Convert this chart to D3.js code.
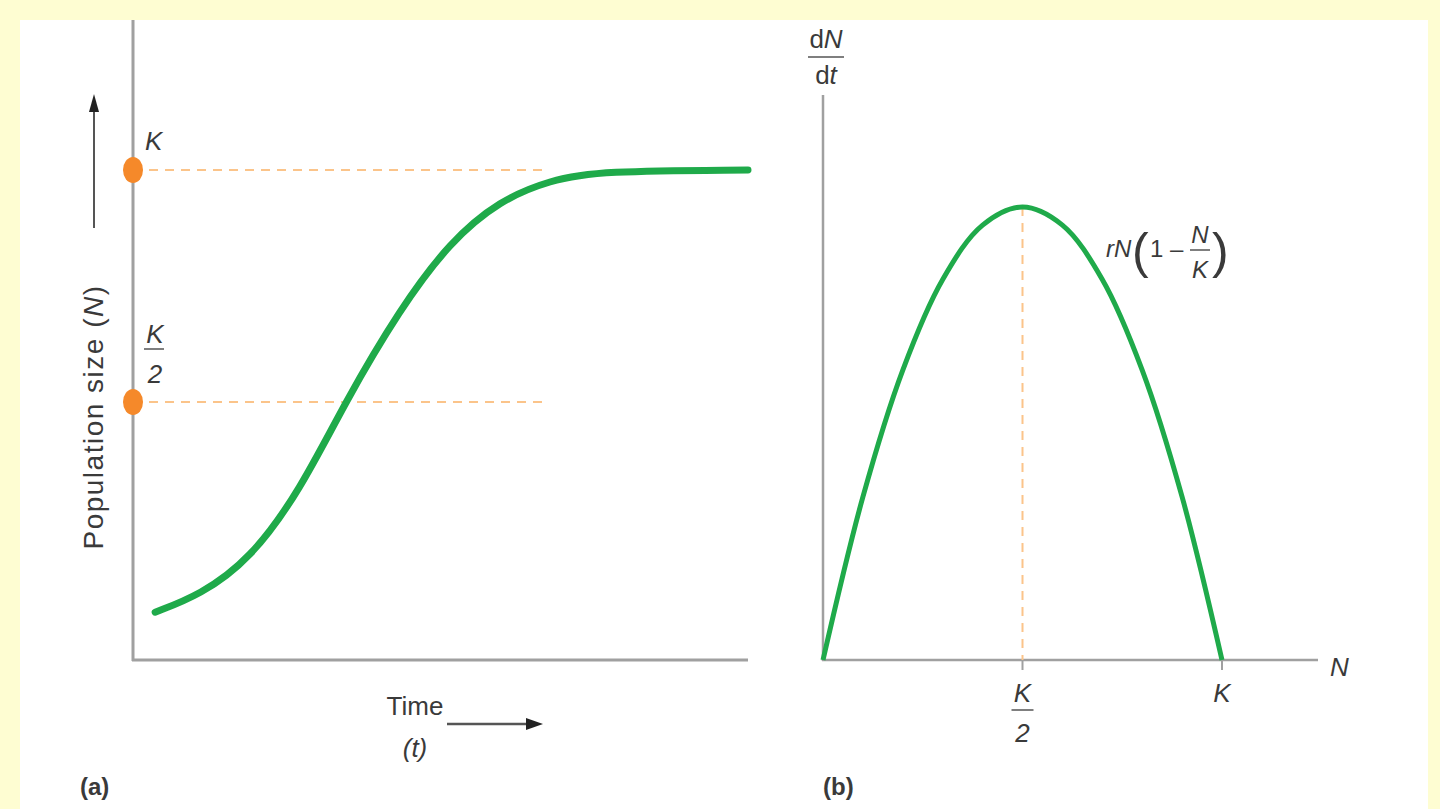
<!DOCTYPE html><html><head><meta charset="utf-8">
<script src="https://cdn.jsdelivr.net/npm/d3@7"></script>
<style>body{margin:0;background:#fefdd2}svg{display:block}text{font-family:"Liberation Sans Narrow","Liberation Sans",Arial,sans-serif;fill:#3a3a3a}</style>
</head><body><svg width="1440" height="809"></svg><script>
// Logistic growth (N as fraction of K)
const timeVals=[0.36,1.09,1.9,2.72,3.45,4.34,5.15,5.97,6.78,7.59,10];
const popVals=[0.047,0.084,0.16,0.31,0.5,0.70,0.845,0.935,0.978,0.998,1];
// dN/dt vs N (fraction of peak)
const nVals=[0,0.1,0.2,0.3,0.4,0.5,0.6,0.7,0.8,0.9,1];
const rateVals=[0,0.36,0.64,0.84,0.96,1,0.96,0.84,0.64,0.36,0];
const refLevels=[1,0.5];

const svg=d3.select("svg");
svg.append("rect").attr("x",20).attr("y",20).attr("width",1408).attr("height",800).attr("fill","#fff");
const gray="#a0a0a0",green="#1faa4a";

// Panel a
const xa=d3.scaleLinear().domain([0,10]).range([133,748]);
const ya=d3.scaleLinear().domain([0,1]).range([634,170]);
svg.append("line").attr("x1",133).attr("x2",133).attr("y1",20).attr("y2",661).attr("stroke",gray).attr("stroke-width",3);
svg.append("line").attr("x1",132).attr("x2",748).attr("y1",660).attr("y2",660).attr("stroke",gray).attr("stroke-width",3);
refLevels.forEach(v=>{
  svg.append("line").attr("x1",133).attr("x2",548).attr("y1",ya(v)).attr("y2",ya(v)).attr("stroke","#fbc48a").attr("stroke-width",2).attr("stroke-dasharray","9,7");
});
svg.append("path").datum(timeVals.map((t,i)=>[t,popVals[i]])).attr("fill","none").attr("stroke",green).attr("stroke-width",7).attr("stroke-linecap","round")
  .attr("d",d3.line().x(d=>xa(d[0])).y(d=>ya(d[1])).curve(d3.curveBasis));
refLevels.forEach(v=>{
  svg.append("ellipse").attr("cx",133).attr("cy",ya(v)).attr("rx",10).attr("ry",13).attr("fill","#f5892a");
});
svg.append("text").attr("x",145).attr("y",150).attr("font-size",26).attr("font-style","italic").text("K");
svg.append("text").attr("x",155).attr("y",343).attr("text-anchor","middle").attr("font-size",26).attr("font-style","italic").text("K");
svg.append("line").attr("x1",144).attr("x2",164).attr("y1",349).attr("y2",349).attr("stroke","#555").attr("stroke-width",1.5);
svg.append("text").attr("x",155).attr("y",383).attr("text-anchor","middle").attr("font-size",26).attr("font-style","italic").text("2");
svg.append("text").attr("transform","translate(103,417) rotate(-90)").attr("text-anchor","middle").attr("font-size",28).attr("letter-spacing",1.5)
  .html('Population size (<tspan font-style="italic">N</tspan>)');
svg.append("line").attr("x1",94).attr("x2",94).attr("y1",228).attr("y2",108).attr("stroke","#555").attr("stroke-width",2);
svg.append("path").attr("d","M89,112 L94,94 L99,112 Z").attr("fill","#222");
svg.append("text").attr("x",415).attr("y",715).attr("text-anchor","middle").attr("font-size",26).text("Time");
svg.append("text").attr("x",415).attr("y",757).attr("text-anchor","middle").attr("font-size",26).attr("font-style","italic").text("(t)");
svg.append("line").attr("x1",447).attr("x2",530).attr("y1",724).attr("y2",724).attr("stroke","#555").attr("stroke-width",2.5);
svg.append("path").attr("d","M526,718 L543,724 L526,730 Z").attr("fill","#222");
svg.append("text").attr("x",80).attr("y",795).attr("font-size",24).attr("font-weight","bold").text("(a)");

// Panel b
const xb=d3.scaleLinear().domain([0,1]).range([823,1222]);
const yb=d3.scaleLinear().domain([0,1]).range([660,207]);
svg.append("line").attr("x1",823).attr("x2",823).attr("y1",95).attr("y2",661).attr("stroke",gray).attr("stroke-width",2.5);
svg.append("line").attr("x1",822).attr("x2",1318).attr("y1",660).attr("y2",660).attr("stroke",gray).attr("stroke-width",2.5);
svg.append("line").attr("x1",xb(0.5)).attr("x2",xb(0.5)).attr("y1",yb(1)).attr("y2",660).attr("stroke","#fbc48a").attr("stroke-width",2).attr("stroke-dasharray","9,7");
svg.append("line").attr("x1",xb(0.5)).attr("x2",xb(0.5)).attr("y1",660).attr("y2",670).attr("stroke",gray).attr("stroke-width",2);
svg.append("line").attr("x1",xb(1)).attr("x2",xb(1)).attr("y1",660).attr("y2",670).attr("stroke",gray).attr("stroke-width",2);
svg.append("path").datum(nVals.map((n,i)=>[n,rateVals[i]])).attr("fill","none").attr("stroke",green).attr("stroke-width",5)
  .attr("d",d3.line().x(d=>xb(d[0])).y(d=>yb(d[1])).curve(d3.curveCatmullRom));
svg.append("text").attr("x",826).attr("y",48).attr("text-anchor","middle").attr("font-size",26).html('d<tspan font-style="italic">N</tspan>');
svg.append("line").attr("x1",808).attr("x2",844).attr("y1",57).attr("y2",57).attr("stroke","#555").attr("stroke-width",1.5);
svg.append("text").attr("x",826).attr("y",84).attr("text-anchor","middle").attr("font-size",26).html('d<tspan font-style="italic">t</tspan>');
svg.append("text").attr("x",1330).attr("y",676).attr("font-size",26).attr("font-style","italic").text("N");
svg.append("text").attr("x",xb(0.5)).attr("y",702).attr("text-anchor","middle").attr("font-size",26).attr("font-style","italic").text("K");
svg.append("line").attr("x1",xb(0.5)-11).attr("x2",xb(0.5)+11).attr("y1",710).attr("y2",710).attr("stroke","#555").attr("stroke-width",1.5);
svg.append("text").attr("x",xb(0.5)).attr("y",742).attr("text-anchor","middle").attr("font-size",26).attr("font-style","italic").text("2");
svg.append("text").attr("x",xb(1)).attr("y",702).attr("text-anchor","middle").attr("font-size",26).attr("font-style","italic").text("K");
const f=svg.append("g").attr("font-size",24);
f.append("text").attr("x",1106).attr("y",257).attr("font-style","italic").text("rN");
f.append("text").attr("x",1132).attr("y",268).attr("font-size",50).attr("font-weight","100").attr("fill","#777").text("(");
f.append("text").attr("x",1150).attr("y",257).text("1 –");
f.append("text").attr("x",1200).attr("y",243).attr("text-anchor","middle").attr("font-style","italic").text("N");
f.append("line").attr("x1",1190).attr("x2",1210).attr("y1",250).attr("y2",250).attr("stroke","#555").attr("stroke-width",1.5);
f.append("text").attr("x",1200).attr("y",278).attr("text-anchor","middle").attr("font-style","italic").text("K");
f.append("text").attr("x",1212).attr("y",268).attr("font-size",50).attr("font-weight","100").attr("fill","#777").text(")");
svg.append("text").attr("x",823).attr("y",795).attr("font-size",24).attr("font-weight","bold").text("(b)");
</script></body></html>
